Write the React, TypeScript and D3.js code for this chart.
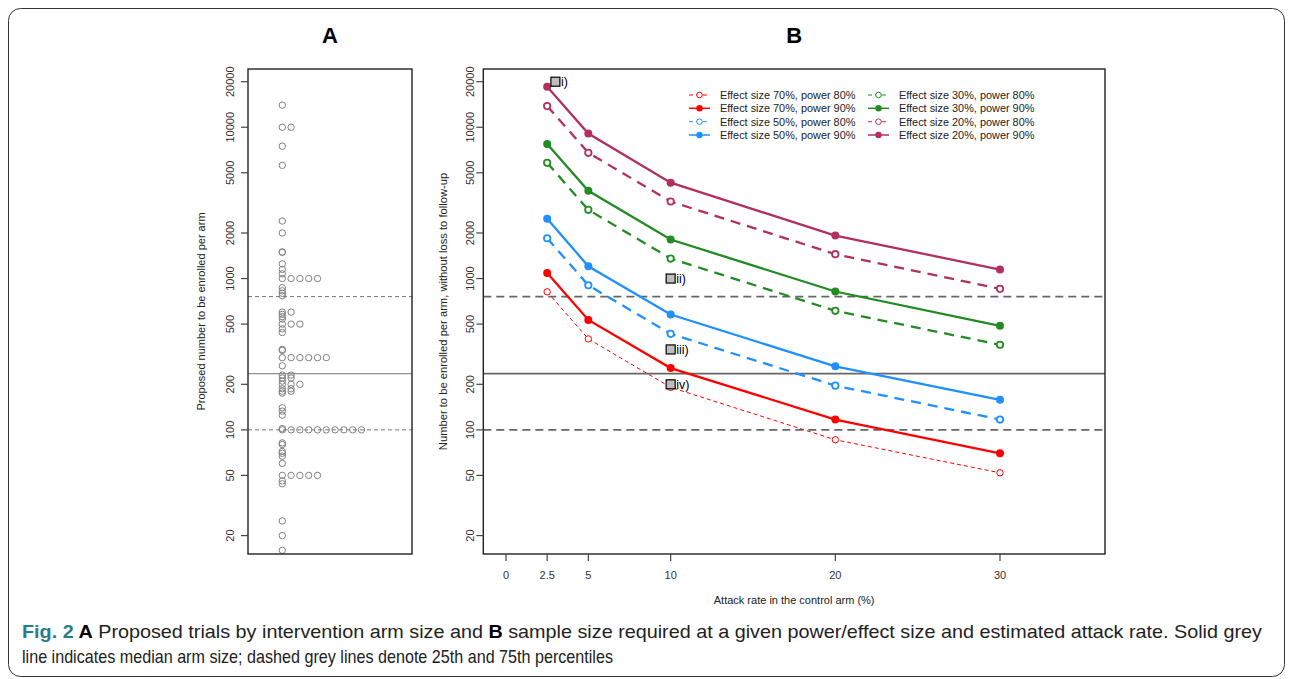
import React from "react";
import * as d3 from "d3";

// ---------- Data ----------
// Panel A: proposed number to be enrolled per arm (identical values stack sideways)
const trialArmSizes: number[] = [
  14000, 10000, 10000, 7500, 5600, 2400, 2000, 1500, 1490, 1250, 1150, 1075,
  1000, 1000, 1000, 1000, 1000, 870, 830, 800, 770, 600, 600, 580, 560, 540,
  500, 500, 500, 465, 440, 340, 335, 300, 300, 300, 300, 300, 300, 265, 230,
  230, 220, 220, 210, 200, 200, 200, 187, 187, 180, 180, 175, 140, 133, 125,
  102, 100, 100, 100, 100, 100, 100, 100, 100, 100, 100, 82, 80, 72, 70, 67,
  60, 50, 50, 50, 50, 50, 46, 44, 25, 20, 16,
];
// reference lines: 25th percentile, median, 75th percentile
const percentileLines: { value: number; kind: string }[] = [
  { value: 100, kind: "dashed" },
  { value: 235, kind: "solid" },
  { value: 760, kind: "dashed" },
];

// Panel B
const attackRates = [2.5, 5, 10, 20, 30];
const es70p80 = [817, 399, 191, 86, 52];
const es70p90 = [1090, 533, 256, 117, 70];
const es50p80 = [1846, 903, 431, 196, 117];
const es50p90 = [2484, 1206, 578, 263, 158];
const es30p80 = [5820, 2846, 1356, 612, 365];
const es30p90 = [7760, 3800, 1811, 821, 487];
const es20p80 = [13800, 6780, 3230, 1448, 855];
const es20p90 = [18500, 9080, 4300, 1923, 1146];

const seriesList = [
  { label: "Effect size 70%, power 80%", values: es70p80, color: "#FF0000", power: 80, thin: true },
  { label: "Effect size 70%, power 90%", values: es70p90, color: "#FF0000", power: 90, thin: false },
  { label: "Effect size 50%, power 80%", values: es50p80, color: "#1E90FF", power: 80, thin: false },
  { label: "Effect size 50%, power 90%", values: es50p90, color: "#1E90FF", power: 90, thin: false },
  { label: "Effect size 30%, power 80%", values: es30p80, color: "#228B22", power: 80, thin: false },
  { label: "Effect size 30%, power 90%", values: es30p90, color: "#228B22", power: 90, thin: false },
  { label: "Effect size 20%, power 80%", values: es20p80, color: "#B03060", power: 80, thin: false },
  { label: "Effect size 20%, power 90%", values: es20p90, color: "#B03060", power: 90, thin: false },
];

const labelledTrials = [
  { label: "i)", rate: 3, n: 20000 },
  { label: "ii)", rate: 10, n: 1000 },
  { label: "iii)", rate: 10, n: 340 },
  { label: "iv)", rate: 10, n: 200 },
];

const yTicks = [20, 50, 100, 200, 500, 1000, 2000, 5000, 10000, 20000];
const xTicks = [0, 2.5, 5, 10, 20, 30];

const captionLine1 = " Proposed trials by intervention arm size and ";
const captionLine1b = " sample size required at a given power/effect size and estimated attack rate. Solid grey";
const captionLine2 = "line indicates median arm size; dashed grey lines denote 25th and 75th percentiles";

// ---------- Layout ----------
const W = 1290;
const H = 679;
const FONT = "'Liberation Sans', Arial, Helvetica, sans-serif";
const plotTop = 69;
const plotBottom = 554;
const boxA = { left: 248, right: 412 };
const boxB = { left: 483.3, right: 1105 };

const yScale = d3.scaleLog().domain([20, 20000]).range([535.6, 81.7]);
const xScaleB = d3.scaleLinear().domain([0, 30]).range([506, 1000]);
const stackScale = d3.scaleLinear().domain([0, 1]).range([282.3, 291.1]);

function fmt(v: number) {
  return String(v);
}

export default function App() {
  const counts = new Map<number, number>();
  const stacked = trialArmSizes.map((v) => {
    const k = counts.get(v) ?? 0;
    counts.set(v, k + 1);
    return { v, k };
  });

  const line = d3
    .line<number>()
    .x((_, i) => xScaleB(attackRates[i]))
    .y((d) => yScale(d));

  const tickColor = "#333";

  const yAxis = (left: number, labelX: number) => (
    <g>
      {yTicks.map((t) => (
        <g key={t}>
          <line x1={left - 7} x2={left} y1={yScale(t)} y2={yScale(t)} stroke="#444" strokeWidth={1.2} />
          <text
            transform={`translate(${labelX},${yScale(t)}) rotate(-90)`}
            textAnchor="middle"
            fontSize={11}
            fill={tickColor}
            fontFamily={FONT}
          >
            {fmt(t)}
          </text>
        </g>
      ))}
    </g>
  );

  const legendRows = [95, 108.3, 121.7, 135];
  const legendCols = [
    { x1: 689, x2: 710, cx: 699.5, tx: 720 },
    { x1: 868, x2: 889, cx: 878.5, tx: 899 },
  ];

  return (
    <svg width={W} height={H} style={{ position: "absolute", left: 0, top: 0 }} fontFamily={FONT}>
      <rect x={0} y={0} width={W} height={H} fill="#fff" />
      <rect x={8.5} y={8.5} width={1276} height={668} rx={12} ry={12} fill="none" stroke="#333" strokeWidth={1} />

      {/* Titles */}
      <text x={(boxA.left + boxA.right) / 2} y={43} textAnchor="middle" fontSize={22} fontWeight="bold" fill="#000">A</text>
      <text x={(boxB.left + boxB.right) / 2} y={43} textAnchor="middle" fontSize={22} fontWeight="bold" fill="#000">B</text>

      {/* ---------- Panel A ---------- */}
      <g>
        {percentileLines.map((p) => (
          <line
            key={p.value}
            x1={boxA.left}
            x2={boxA.right}
            y1={yScale(p.value)}
            y2={yScale(p.value)}
            stroke="#777"
            strokeWidth={1}
            strokeDasharray={p.kind === "dashed" ? "4,3" : undefined}
          />
        ))}
        {stacked.map((d, i) => (
          <circle key={i} cx={stackScale(d.k)} cy={yScale(d.v)} r={3.2} fill="none" stroke="#808080" strokeWidth={1} />
        ))}
        <rect x={boxA.left} y={plotTop} width={boxA.right - boxA.left} height={plotBottom - plotTop} fill="none" stroke="#222" strokeWidth={1.4} />
        {yAxis(boxA.left, 233.5)}
        <text
          transform={`translate(205,${(plotTop + plotBottom) / 2}) rotate(-90)`}
          textAnchor="middle"
          fontSize={11}
          fill="#222"
        >
          Proposed number to be enrolled per arm
        </text>
      </g>

      {/* ---------- Panel B ---------- */}
      <g>
        {percentileLines.map((p) => (
          <line
            key={p.value}
            x1={boxB.left}
            x2={boxB.right}
            y1={yScale(p.value)}
            y2={yScale(p.value)}
            stroke="#666"
            strokeWidth={1.8}
            strokeDasharray={p.kind === "dashed" ? "8,5" : undefined}
          />
        ))}
        {seriesList.map((s) => (
          <path
            key={s.label + "l"}
            d={line(s.values) ?? ""}
            fill="none"
            stroke={s.color}
            strokeWidth={s.thin ? 1 : 2.3}
            strokeDasharray={s.power === 80 ? (s.thin ? "4,3" : "10,7") : undefined}
          />
        ))}
        {seriesList.map((s) =>
          s.values.map((v, i) =>
            s.power === 90 ? (
              <circle key={s.label + i} cx={xScaleB(attackRates[i])} cy={yScale(v)} r={4} fill={s.color} />
            ) : (
              <circle
                key={s.label + i}
                cx={xScaleB(attackRates[i])}
                cy={yScale(v)}
                r={3.2}
                fill="#fff"
                stroke={s.color}
                strokeWidth={s.thin ? 1 : 1.8}
              />
            )
          )
        )}
        {labelledTrials.map((t) => (
          <g key={t.label}>
            <rect x={xScaleB(t.rate) - 4.5} y={yScale(t.n) - 4.5} width={9} height={9} fill="#BEBEBE" stroke="#000" strokeWidth={1.2} />
            <text x={xScaleB(t.rate) + 5.5} y={yScale(t.n) + 4.5} fontSize={12.5} fill="#000">{t.label}</text>
          </g>
        ))}

        {/* legend */}
        {seriesList.map((s, i) => {
          const col = legendCols[Math.floor(i / 4)];
          const y = legendRows[i % 4];
          return (
            <g key={s.label + "lg"}>
              <line
                x1={col.x1}
                x2={col.x2}
                y1={y}
                y2={y}
                stroke={s.color}
                strokeWidth={s.power === 80 ? 1 : 1.5}
                strokeDasharray={s.power === 80 ? "4,3" : undefined}
              />
              {s.power === 90 ? (
                <circle cx={col.cx} cy={y} r={3.2} fill={s.color} />
              ) : (
                <circle cx={col.cx} cy={y} r={2.8} fill="#fff" stroke={s.color} strokeWidth={1} />
              )}
              <text x={col.tx} y={y + 3.8} fontSize={10.9} fill="#222">{s.label}</text>
            </g>
          );
        })}

        <rect x={boxB.left} y={plotTop} width={boxB.right - boxB.left} height={plotBottom - plotTop} fill="none" stroke="#222" strokeWidth={1.4} />
        {yAxis(boxB.left, 473.5)}
        {xTicks.map((t) => (
          <g key={t}>
            <line x1={xScaleB(t)} x2={xScaleB(t)} y1={plotBottom} y2={plotBottom + 7} stroke="#444" strokeWidth={1.2} />
            <text x={xScaleB(t)} y={579} textAnchor="middle" fontSize={11} fill={tickColor}>{fmt(t)}</text>
          </g>
        ))}
        <text
          transform={`translate(447,${(plotTop + plotBottom) / 2}) rotate(-90)`}
          textAnchor="middle"
          fontSize={11.2}
          fill="#222"
        >
          Number to be enrolled per arm, without loss to follow-up
        </text>
        <text x={(boxB.left + boxB.right) / 2} y={604} textAnchor="middle" fontSize={11} fill="#222">
          Attack rate in the control arm (%)
        </text>
      </g>

      {/* Caption */}
      <text x={22} y={638} fontSize={18.5} fill="#222" textLength={1240} lengthAdjust="spacingAndGlyphs">
        <tspan fontWeight="bold" fill="#2A7C8A">Fig. 2</tspan>
        <tspan fontWeight="bold" fill="#000"> A</tspan>
        <tspan>{captionLine1}</tspan>
        <tspan fontWeight="bold" fill="#000">B</tspan>
        <tspan>{captionLine1b}</tspan>
      </text>
      <text x={22} y={663} fontSize={18.5} fill="#222" textLength={591} lengthAdjust="spacingAndGlyphs">
        {captionLine2}
      </text>
    </svg>
  );
}
